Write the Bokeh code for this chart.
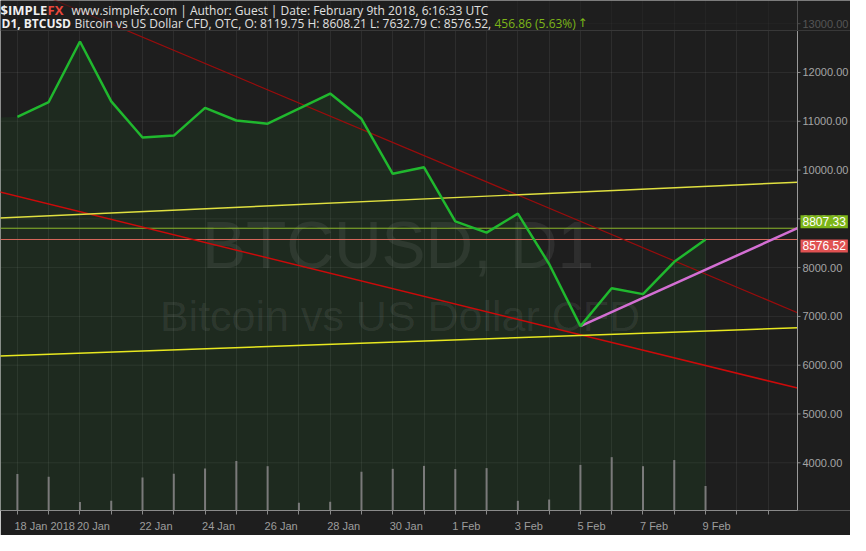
from bokeh.plotting import figure
from bokeh.models import (Range1d, FixedTicker, CustomJSTickFormatter,
                          Label, Span, BoxAnnotation)
from bokeh.core.properties import value
from bokeh.embed import file_html
from bokeh.resources import INLINE

# ---------------- data ----------------
# day index: 0 = 18 Jan 2018 ... 22 = 9 Feb 2018
days = list(range(23))
close = [11090, 11394, 12634, 11408, 10666, 10706, 11275, 11016, 10950, 11260, 11567, 11050,
         9923, 10056, 8948, 8718, 9107, 8074, 6801, 7577, 7457, 8119.75, 8576.52]
prev_day = -1          # 17 Jan (only the filled area reaches it)
prev_close = 11064
volume = [717, 660, 165, 190, 646, 722, 823, 970, 869, 152, 171, 760,
          817, 875, 812, 831, 190, 215, 894, 1046, 869, 989, 481]
label_days = [0, 2, 4, 6, 8, 10, 12, 14, 16, 18, 20, 22]
day_labels = ["18 Jan 2018", "20 Jan", "22 Jan", "24 Jan", "26 Jan", "28 Jan", "30 Jan",
              "1 Feb", "3 Feb", "5 Feb", "7 Feb", "9 Feb"]
price_ticks = [4000, 5000, 6000, 7000, 8000, 9000, 10000, 11000, 12000, 13000]
# trend lines (anchor points: day index, price)
resist_x, resist_y = [1.0, 24.94], [13533, 7076]
support_x, support_y = [-1.0, 24.94], [9618, 5531]
chan_hi_x, chan_hi_y = [-1.0, 24.94], [9005, 9751]
chan_lo_x, chan_lo_y = [-1.0, 24.94], [6180, 6768]
rise_x, rise_y = [18, 24.94], [6801, 8807.33]
last_price = 8576.52
trend_price = 8807.33

# ---------------- layout ----------------
X0, X1 = -0.54, 24.94        # price-area x extent
Y0, Y1 = 3022, 13475
W, H = 850, 535
BB = 25
DW = 797                      # width of the price area, px
AXW = W - DW                  # width of the price-scale strip, px
FH = H - BB
PPD = DW / (X1 - X0)          # px per day
XE = X1 + AXW / PPD
PPY = (Y1 - Y0) / FH          # price units per px

def xm(px):  # frame pixel -> data x
    return X0 + px / PPD

def ym(py):  # frame pixel (from top) -> data y
    return Y1 - py * PPY

def xr(px):  # reference-chart pixel -> day
    return (px - 17.3) / 32.02

def yr(py):
    return 13475 - py * 19.873

def lift(size):  # baseline compensation for alphabetic text, in price units
    return 0.34 * size * PPY

BG = "#1e1e1e"
p = figure(width=W, height=H, x_range=Range1d(X0, XE), y_range=Range1d(Y0, Y1),
           output_backend="svg", toolbar_location=None, y_axis_location=None,
           background_fill_color=BG, border_fill_color=BG, outline_line_color=None,
           min_border_left=0, min_border_top=0, min_border_right=0, min_border_bottom=BB)
p.extra_y_ranges = {"vol": Range1d(0, 10000)}

# grid
p.xgrid.ticker = FixedTicker(ticks=list(range(-1, 25)))
p.xgrid.grid_line_color = "#ffffff"
p.xgrid.grid_line_alpha = 0.065
p.ygrid.visible = False
p.segment(x0=X0, x1=X1, y0=price_ticks, y1=price_ticks, line_color="#ffffff", line_alpha=0.065)

# area under price
p.varea(x=[prev_day] + days, y1=0, y2=[prev_close] + close,
        fill_color="#22aa33", fill_alpha=0.085)

# volume
p.segment(x0=days, y0=0, x1=days, y1=volume, y_range_name="vol",
          line_color="#7a7a7a", line_width=2)

# watermark
p.text(x=[xr(407)], y=[yr(275) + lift(66)], text=["BTCUSD, D1"], text_font=value("Liberation Sans"),
       text_font_size="66px", text_align="center", text_baseline="alphabetic",
       text_color="#ffffff", text_alpha=0.075)
p.text(x=[xr(409)], y=[yr(340) + lift(43)], text=["Bitcoin vs US Dollar CFD"],
       text_font=value("Liberation Sans"),
       text_font_size="43px", text_align="center", text_baseline="alphabetic",
       text_color="#ffffff", text_alpha=0.075)

# price scale (right)
p.segment(x0=X1, x1=X1 + 3 / PPD, y0=price_ticks, y1=price_ticks, line_color="#8a8a8a")
p.text(x=X1, y=price_ticks, text=["%.2f" % v for v in price_ticks], x_offset=5,
       text_baseline="middle", text_font=value("Liberation Sans"), text_font_size="11px",
       text_color="#a5a5a5")

# horizontal price lines
p.segment(x0=X0, x1=X1, y0=[trend_price, last_price], y1=[trend_price, last_price],
          line_color=["#8cb82a", "#d8685c"], line_width=1)

# trend lines
p.line(resist_x, resist_y, line_color="#9a0c0c", line_width=1.2)
p.line(support_x, support_y, line_color="#cc0a0a", line_width=1.5)
p.line(chan_hi_x, chan_hi_y, line_color="#e0e040", line_width=1.4)
p.line(chan_lo_x, chan_lo_y, line_color="#e8e820", line_width=1.5)
p.line(rise_x, rise_y, line_color="#d36fd3", line_width=2.5)

# price line
p.line(days, close, line_color="#20b82e", line_width=2.5)

# x axis
cw = {" ": 0.278, "J": 0.5, "F": 0.611}
def text_w(s):
    return sum(cw.get(c, 0.556) for c in s) * 11
label_pos = [d + (text_w(s) / 2 - 3) / PPD for d, s in zip(label_days, day_labels)]
xa = p.xaxis[0]
xa.bounds = (X0, X1)
xa.ticker = FixedTicker(ticks=label_pos, minor_ticks=list(range(0, 25)))
xa.formatter = CustomJSTickFormatter(args=dict(labels=day_labels), code="return labels[index];")
xa.major_tick_out = 0
xa.major_tick_in = 0
xa.minor_tick_out = 4
xa.minor_tick_in = 0
xa.minor_tick_line_color = "#8a8a8a"
xa.axis_line_color = "#8a8a8a"
xa.major_label_text_color = "#9d9d9d"
xa.major_label_text_font = "Liberation Sans"
xa.major_label_text_font_size = "11px"
xa.major_label_standoff = 5

# price-scale axis line
p.add_layout(Span(location=X1, dimension="height", line_color="#9a9a9a", line_width=1))

# price flags
p.add_layout(Label(x=X1, y=trend_price, x_offset=3, text="%.2f" % trend_price,
                   text_baseline="bottom", text_color="#ffffff", text_font="Liberation Sans",
                   text_font_size="12px", background_fill_color="#7cb518", padding=2))
p.add_layout(Label(x=X1, y=last_price, x_offset=3, text="%.2f" % last_price,
                   text_baseline="top", text_color="#ffffff", text_font="Liberation Sans",
                   text_font_size="12px", background_fill_color="#e05252", padding=2))

# header overlay
p.add_layout(BoxAnnotation(top=Y1, bottom=ym(30), fill_color=BG, fill_alpha=0.6, line_alpha=0))
p.add_layout(Span(location=ym(30), dimension="width", line_color="#383838", line_width=1))

# header texts
HF = "Open Sans"
def head(px, py, txt, color, bold=False, size=12, font=HF):
    p.add_layout(Label(x=xm(px), y=ym(py) + lift(size), text=txt, text_color=color, text_font=font,
                       text_font_size="%spx" % size, text_font_style="bold" if bold else "normal",
                       text_baseline="alphabetic"))

head(0, 14, "$IMPLE", "#f0f0f0", bold=True, size=13)
head(47, 14, "FX", "#e8473c", bold=True, size=13)
head(71, 14, "www.simplefx.com | Author: Guest | Date: February 9th 2018, 6:16:33 UTC", "#e0e0e0")
head(1, 27, "D1, BTCUSD", "#f0f0f0", bold=True)
head(74, 27, "Bitcoin vs US Dollar CFD, OTC, O: 8119.75 H: 8608.21 L: 7632.79 C: 8576.52,", "#e0e0e0")
head(494, 27, "456.86 (5.63%)", "#7cb518")
head(577, 27, "\u2191", "#7cb518", font="DejaVu Sans")

open("out.html", "w").write(file_html(p, INLINE))
